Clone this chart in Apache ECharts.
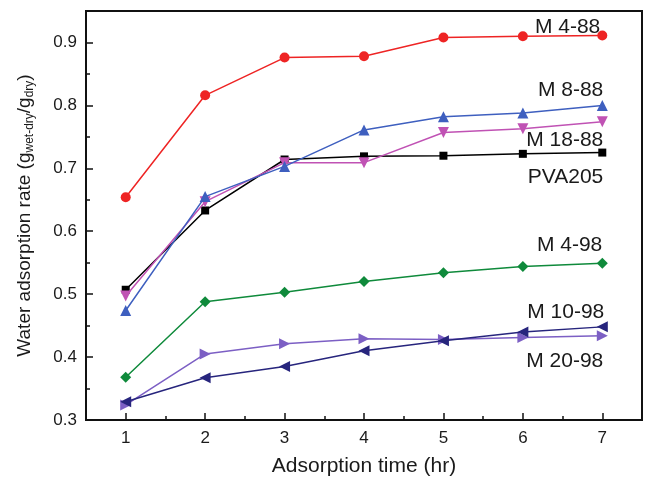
<!DOCTYPE html>
<html>
<head>
<meta charset="utf-8">
<script src="https://cdn.jsdelivr.net/npm/echarts@6/dist/echarts.min.js"></script>
<style>
html,body{margin:0;padding:0;background:#fff;}
#chart{width:645px;height:479px;}
</style>
</head>
<body>
<div id="chart"></div>
<script>
// Data
const times = [1, 2, 3, 4, 5, 6, 7];
const seriesNames = ['M 4-88', 'M 8-88', 'M 18-88', 'PVA205', 'M 4-98', 'M 10-98', 'M 20-98'];
const m4_88  = [0.654, 0.816, 0.876, 0.878, 0.908, 0.910, 0.911];
const m8_88  = [0.474, 0.655, 0.703, 0.761, 0.782, 0.788, 0.800];
const m18_88 = [0.497, 0.647, 0.709, 0.709, 0.757, 0.763, 0.774];
const pva205 = [0.507, 0.633, 0.714, 0.719, 0.720, 0.723, 0.725];
const m4_98  = [0.368, 0.488, 0.503, 0.520, 0.534, 0.544, 0.549];
const m10_98 = [0.329, 0.367, 0.385, 0.410, 0.426, 0.440, 0.448];
const m20_98 = [0.324, 0.405, 0.421, 0.429, 0.428, 0.431, 0.434];
const xTicks = [1, 2, 3, 4, 5, 6, 7];
const xMinorTicks = [1.5, 2.5, 3.5, 4.5, 5.5, 6.5];
const yTicks = [0.3, 0.4, 0.5, 0.6, 0.7, 0.8, 0.9];
const yMinorTicks = [0.35, 0.45, 0.55, 0.65, 0.75, 0.85];

const allValues = [m4_88, m8_88, m18_88, pva205, m4_98, m10_98, m20_98];

// styles
const colors = ['#ee2424', '#3e5fbf', '#c052b4', '#000000', '#0f8a3b', '#27257d', '#7c5fc4'];
const symbols = ['circle', 'triangle', 'triangle', 'rect', 'diamond', 'triangle', 'triangle'];
const rotations = [0, 0, 180, 0, 0, 90, -90];
const sizes = [10, 11, 11, 8, 11, 11, 11];
const labelOffsets = [[-2, -8], [1, -15], [1, 18], [1, 25], [0, -18], [2, -15], [1, 26]];

const FONT = 'Liberation Sans, Arial, sans-serif';
const TXT = '#1a1a1a';

const series = allValues.map((vals, i) => ({
  name: seriesNames[i],
  type: 'line',
  data: times.map((t, k) => [t, vals[k]]),
  symbol: symbols[i],
  symbolSize: sizes[i],
  symbolRotate: rotations[i],
  showAllSymbol: true,
  lineStyle: { color: colors[i], width: 1.5 },
  itemStyle: { color: colors[i] },
  z: 10 - i,
  label: {
    show: true,
    position: 'inside',
    align: 'right',
    verticalAlign: 'middle',
    offset: labelOffsets[i],
    fontFamily: FONT,
    fontSize: 21,
    color: TXT,
    formatter: p => (p.dataIndex === times.length - 1 ? seriesNames[i] : '')
  },
  emphasis: { disabled: true }
}));

const chart = echarts.init(document.getElementById('chart'), null, { renderer: 'canvas' });
chart.setOption({
  animation: false,
  backgroundColor: '#fff',
  grid: { left: 86, right: 3, top: 11, bottom: 59, outerBoundsMode: 'none', containLabel: false, show: true, borderColor: '#111', borderWidth: 2, backgroundColor: 'transparent' },
  xAxis: [{
    type: 'value', min: 0.5, max: 7.5,
    name: 'Adsorption time (hr)', nameLocation: 'middle', nameGap: 36,
    nameTextStyle: { fontFamily: FONT, fontSize: 21, color: TXT },
    axisLine: { show: true, lineStyle: { color: '#111', width: 2 } },
    axisTick: { show: true, inside: true, length: 7, customValues: xTicks, lineStyle: { color: '#111', width: 1.5 } },
    axisLabel: { show: true, customValues: xTicks, margin: 10, fontFamily: FONT, fontSize: 17, color: TXT },
    splitLine: { show: false }
  }, {
    type: 'value', min: 0.5, max: 7.5, position: 'bottom',
    axisLine: { show: false },
    axisTick: { show: true, inside: true, length: 4, customValues: xMinorTicks, lineStyle: { color: '#111', width: 1.5 } },
    axisLabel: { show: false },
    splitLine: { show: false }
  }],
  yAxis: [{
    type: 'value', min: 0.3, max: 0.95,
    name: 'Water adsorption rate (g{sub|wet-dry}/g{sub|dry})',
    nameLocation: 'middle', nameGap: 50, nameRotate: 90,
    nameTextStyle: {
      fontFamily: FONT, fontSize: 19, color: TXT, lineHeight: 23,
      rich: { sub: { fontFamily: FONT, fontSize: 12, color: TXT, lineHeight: 13, verticalAlign: 'bottom' } }
    },
    axisLine: { show: true, lineStyle: { color: '#111', width: 2 } },
    axisTick: { show: true, inside: true, length: 7, customValues: yTicks, lineStyle: { color: '#111', width: 1.5 } },
    axisLabel: { show: true, customValues: yTicks, margin: 9, fontFamily: FONT, fontSize: 17, color: TXT, formatter: v => v.toFixed(1) },
    splitLine: { show: false }
  }, {
    type: 'value', min: 0.3, max: 0.95, position: 'left',
    axisLine: { show: false },
    axisTick: { show: true, inside: true, length: 4, customValues: yMinorTicks, lineStyle: { color: '#111', width: 1.5 } },
    axisLabel: { show: false },
    splitLine: { show: false }
  }],
  series: series
});
</script>
</body>
</html>
